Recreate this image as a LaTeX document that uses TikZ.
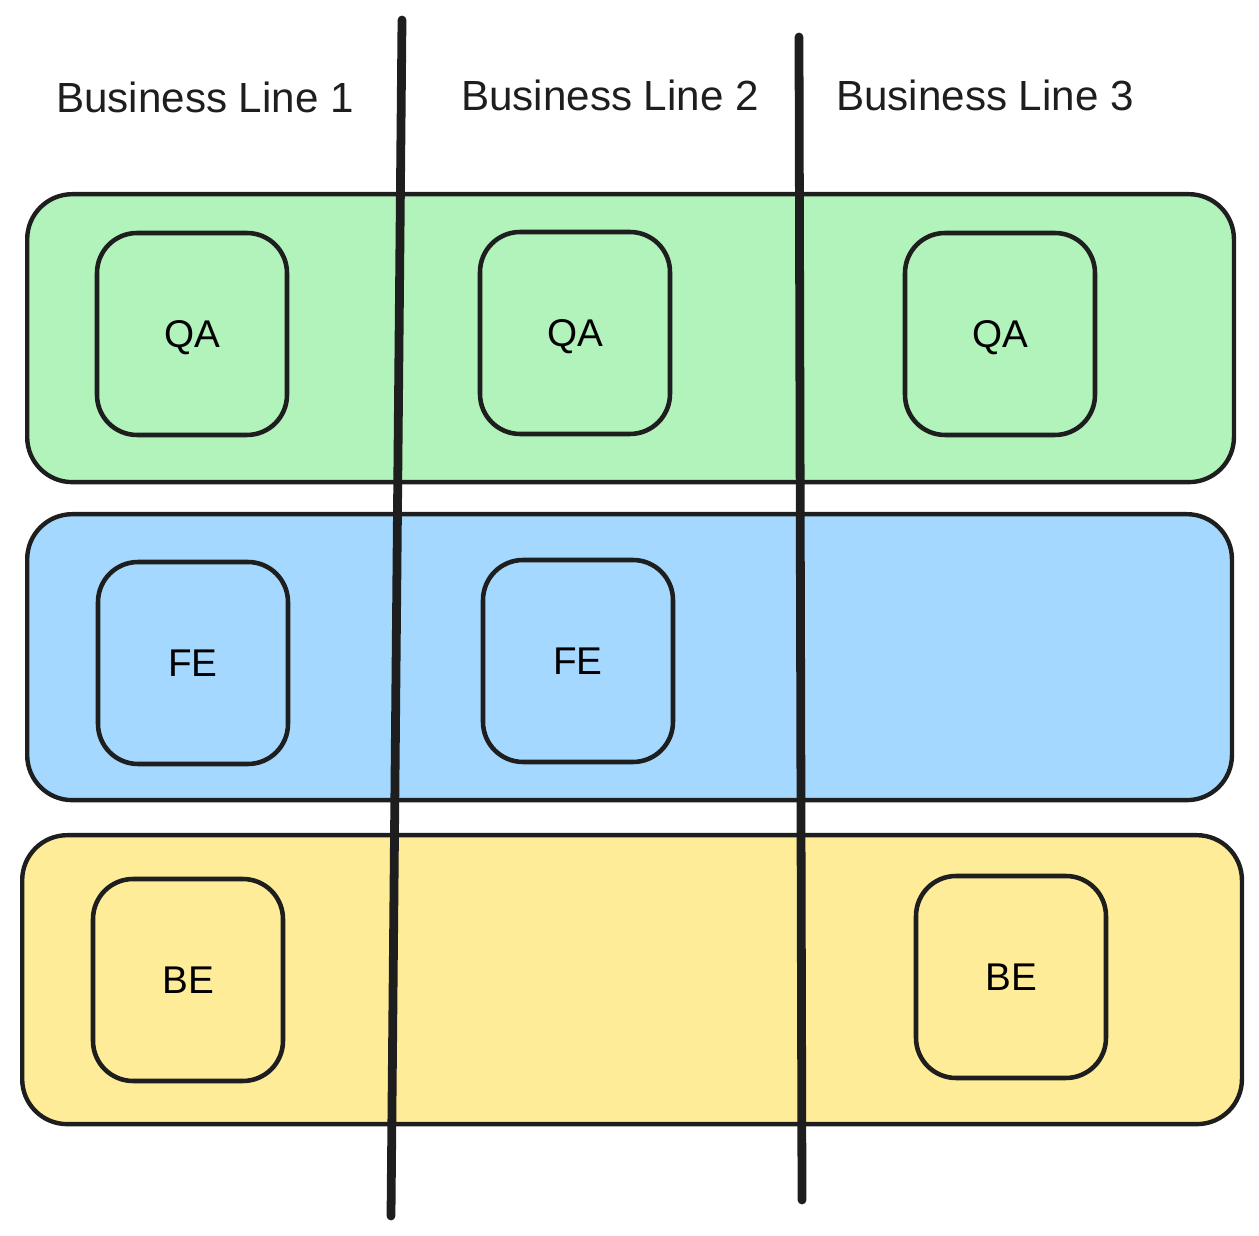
\documentclass[tikz,border=0pt]{standalone}
\usepackage{fontspec}
\setmainfont{Liberation Sans}
\definecolor{qagreen}{HTML}{B2F2BB}
\definecolor{feblue}{HTML}{A5D8FF}
\definecolor{beyellow}{HTML}{FFEC99}
\definecolor{ink}{HTML}{1E1E1E}
\begin{document}
\begin{tikzpicture}[x=0.02cm,y=-0.02cm,
    band/.style={draw=ink,line width=2.5pt,rounded corners=0.9cm,anchor=north west,inner sep=0pt},
    team/.style={draw=ink,line width=2.6pt,rounded corners=0.8cm,minimum width=3.8cm,minimum height=4.04cm,text depth=0pt,font=\fontsize{22}{26}\selectfont},
    heading/.style={font=\fontsize{24}{28}\selectfont,text=ink},
    divider/.style={draw=ink,line width=5pt,line cap=round}]
  \useasboundingbox (0,0) rectangle (1259,1236);

  % layers
  \node[band,fill=qagreen,minimum width=24.14cm,minimum height=5.76cm] (qa) at (25,192) {};
  \node[band,fill=feblue,minimum width=24.1cm,minimum height=5.72cm] (fe) at (25,512) {};
  \node[band,fill=beyellow,minimum width=24.4cm,minimum height=5.78cm] (be) at (20,833) {};

  % business lines
  \node[heading] (bl1) at (205,97) {Business Line 1};
  \node[heading] (bl2) at (610,95) {Business Line 2};
  \node[heading] (bl3) at (985,95) {Business Line 3};

  \node[team,fill=qagreen] (qa1) at (192,334) {QA};
  \node[team,fill=qagreen] (qa2) at (575,333) {QA};
  \node[team,fill=qagreen] (qa3) at (1000,334) {QA};
  \node[team,fill=feblue] (fe1) at (193,663) {FE};
  \node[team,fill=feblue] (fe2) at (578,661) {FE};
  \node[team,fill=beyellow] (be1) at (188,980) {BE};
  \node[team,fill=beyellow] (be3) at (1011,977) {BE};

  \coordinate (d1top) at (402,20);
  \coordinate (d1bot) at (391,1216);
  \coordinate (d2top) at (799,37);
  \coordinate (d2bot) at (802,1200);
  \draw[divider] (d1top) -- (d1bot);
  \draw[divider] (d2top) -- (d2bot);
\end{tikzpicture}
\end{document}
